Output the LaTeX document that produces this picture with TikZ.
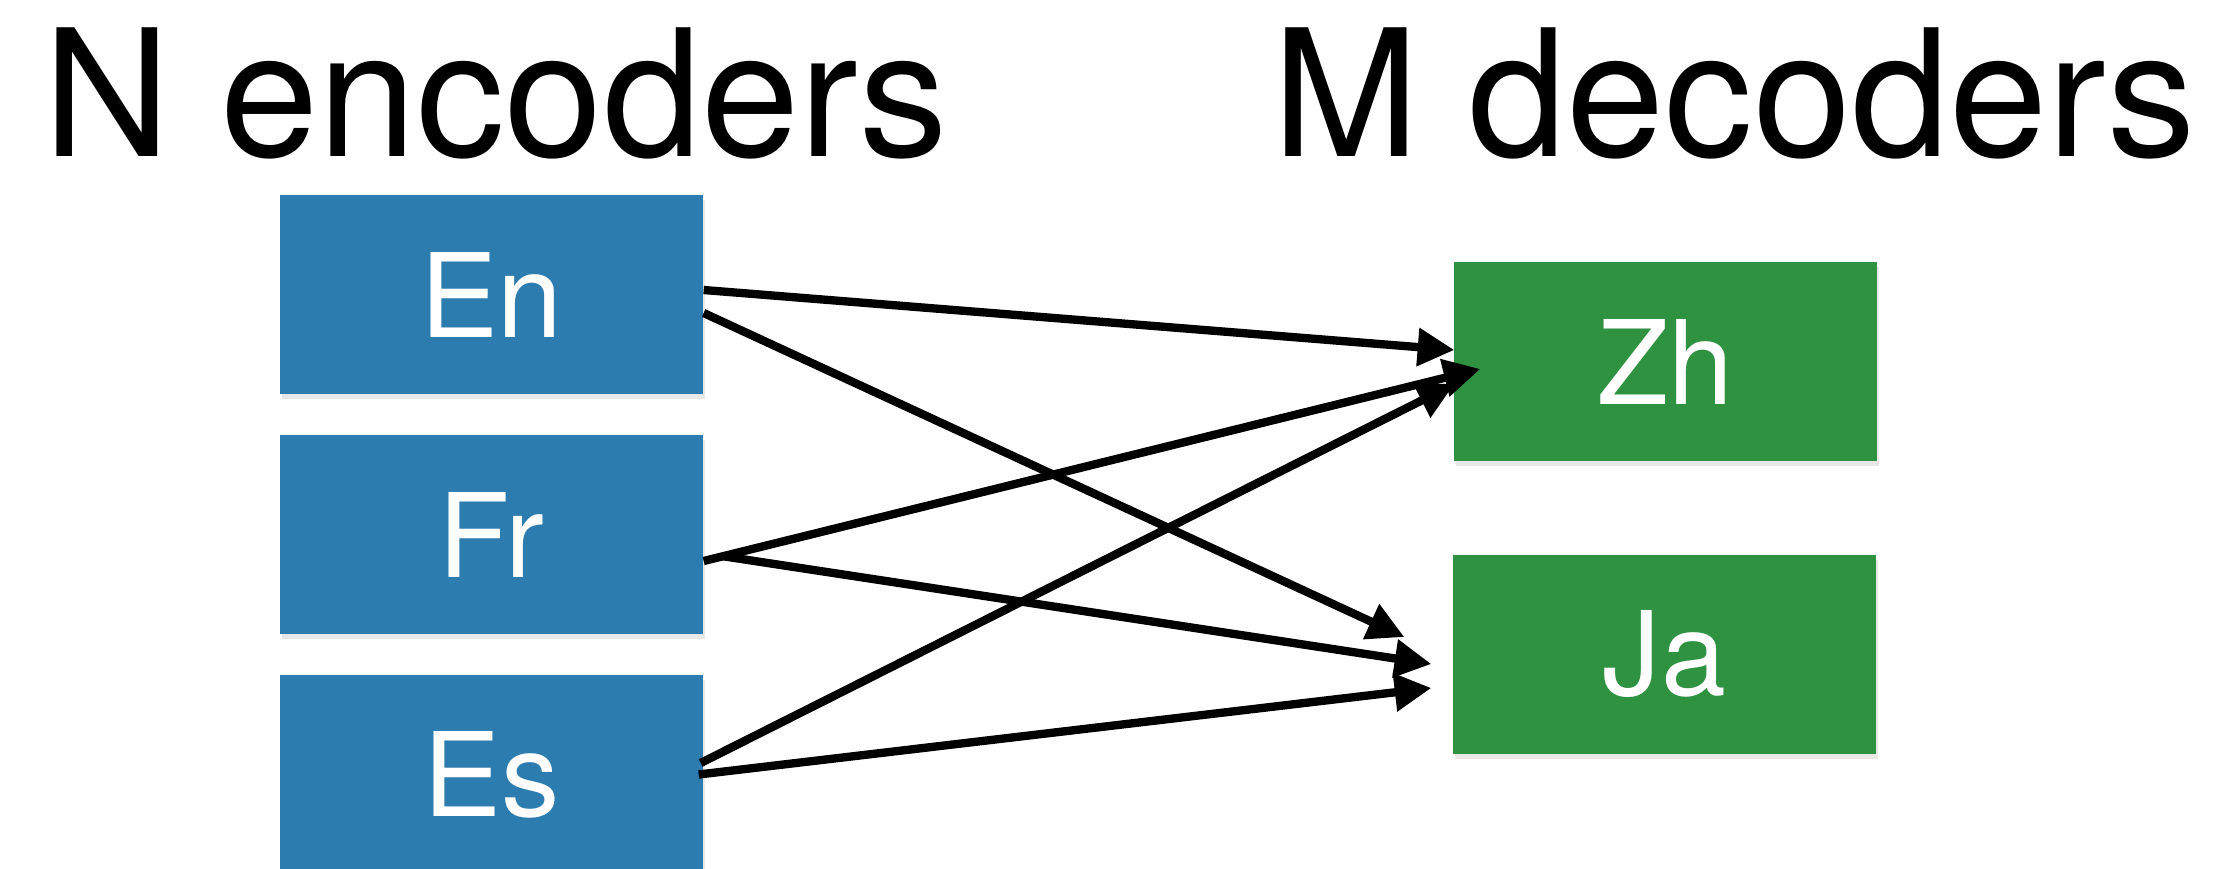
\documentclass[tikz,border=0pt]{standalone}
\usepackage{fontspec}
\setmainfont{TeX Gyre Heros}
\usetikzlibrary{arrows.meta,calc,shadows}
\definecolor{encblue}{RGB}{45,124,176}
\definecolor{decgreen}{RGB}{46,146,64}
\begin{document}
\begin{tikzpicture}[x=0.3pt,y=-0.3pt,
  langbox/.style={rectangle, minimum width=126.9pt, minimum height=59.7pt, inner sep=0pt,
    text=white, font=\fontsize{35}{40}\selectfont,
    drop shadow={opacity=0.18, shadow xshift=0.6pt, shadow yshift=-1.6pt}},
  enc/.style={langbox, fill=encblue},
  dec/.style={langbox, fill=decgreen},
  conn/.style={line width=2.5pt, -{Triangle[length=11pt,width=11pt]}},
  headline/.style={font=\fontsize{53}{60}\selectfont, anchor=base, inner sep=0pt}]
\useasboundingbox (0,0) rectangle (2217,868);
\fill[white] (0,0) rectangle (2217,868);
\node[headline] (tn) at (495.5,156) {N encoders};
\node[headline] (tm) at (1734,156) {M decoders};
\node[enc] (en) at (491.5,294.5) {En};
\node[enc] (fr) at (491.5,534.5) {Fr};
\node[enc] (es) at (491.5,774.5) {Es};
\node[dec] (zh) at (1665.5,361.5) {Zh};
\node[dec] (ja) at (1664.5,654.5) {Ja};
\draw[conn] ($(en.east)+(0,-4.5)$) -- ($(zh.west)+(1,-11.5)$);
\draw[conn] ($(en.east)+(0,18.5)$) -- ($(ja.west)+(-48,-17.5)$);
\draw[conn] ($(fr.east)+(0,26.5)$) -- ($(zh.west)+(27,7.5)$);
\draw[conn] ($(fr.east)+(18,21.5)$) -- ($(ja.west)+(-21,9.5)$);
\draw[conn] ($(es.east)+(-3,-11.5)$) -- ($(zh.west)+(1,22.5)$);
\draw[conn] ($(es.east)+(-5,0)$) -- ($(ja.west)+(-21,33.5)$);
\end{tikzpicture}
\end{document}
